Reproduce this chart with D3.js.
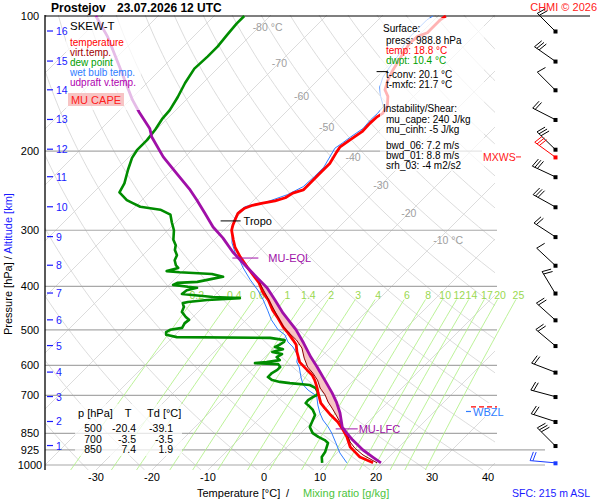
<!DOCTYPE html>
<html><head><meta charset="utf-8">
<script src="https://cdn.jsdelivr.net/npm/d3@7/dist/d3.min.js"></script>
<style>
html,body{margin:0;padding:0;background:#fff;}
svg{display:block;font-family:"Liberation Sans",Arial,Helvetica,sans-serif;}
</style></head><body>
<svg id="chart" width="600" height="500"></svg>
<script>
// ---------------- DATA ----------------
const isobarLevels = [100,200,300,400,500,600,700,850,925,1000];
const tempTicks = [-30,-20,-10,0,10,20,30,40];
const isothermLabelT = [-80,-70,-60,-50,-40,-30,-20,-10];
const isothermLabelP = [106,127,151,177,206,238,275,315];
const mixRatios = [0.2,0.4,0.6,1,1.4,2,3,4,6,8,10,12,14,17,20,25];
const altKm = [1,2,3,4,5,6,7,8,9,10,11,12,13,14,15,16];
const altP  = [905,800,704,621,542,475,414,359,310,266,228,198,170,146,126,108];

const tempP = [988.8,960,935,912,866,836,802,774,747,728,691,670,647,630,614,590,560,540,527,508,493,471,452,429,412,393,362,344,327,315,300,292,285,275,268,264,261,258,254,248,244,236,224,213,201,196,189,181,173,168,165,159,151,146,139,132,127,121,115,111,109,106,102,100];
const tempT = [18.2,14.8,13.0,11.3,8.9,7.0,4.6,2.1,-0.2,-1.8,-4.1,-5.4,-7.0,-8.4,-10.2,-12.9,-15.2,-16.6,-18.0,-20.2,-22.1,-24.6,-27.0,-29.6,-32.0,-34.3,-39.3,-42.3,-45.0,-46.6,-48.6,-49.3,-49.8,-50.5,-50.2,-49.3,-47.9,-46.1,-44.8,-44.3,-43.0,-43.0,-43.0,-43.0,-43.8,-44.1,-43.6,-42.9,-43.0,-42.9,-42.5,-42.9,-44.6,-46.3,-47.5,-48.4,-48.9,-49.6,-50.2,-50.0,-48.9,-48.9,-48.9,-48.6];

const virtP = [988.8,950,917,889,849,823,786,766,747,724,698,674,647,624,605,578,549,527,508,493,471,429,393];
const virtT = [18.9,15.0,12.3,10.4,8.2,6.4,3.9,2.5,1.1,-0.7,-2.5,-4.6,-6.5,-8.6,-10.6,-12.8,-15.0,-17.4,-20.0,-22.0,-24.5,-29.5,-34.2];

const dewP = [988.8,960,935.5,893,880,866,849,823,794,774,754,743,728,717,706,698,688,674,663.5,657,653,647,637,624,614,605,596,593,590,584,575,566,560,552,546,540,532,527,521,519,513,506,500,495,483,475,468,456,445,436,433.5,429,425,422.5,416,408,403,401,397,393,391,385,381,375.5,372,370,364,359,350,341,332,324,315,300,288,277,270,266,261,257,247,236,220,207,199,189,179,169,162,151.5,141,131,123,117,110,104,100];
const dewT = [9.1,8.0,7.7,6.6,5.5,3.8,2.1,0.5,-0.2,-0.7,-2.0,-3.0,-4.5,-4.6,-4.3,-3.9,-4.3,-5.4,-7.0,-10.9,-12.9,-14.6,-15.9,-15.9,-15.5,-15.5,-16.4,-20.7,-18.8,-16.8,-17.9,-17.5,-19.6,-18.2,-20.0,-19.6,-19.3,-19.5,-22.5,-39.3,-41.6,-42.1,-41.8,-40.0,-40.4,-40.2,-41.3,-42.9,-43.4,-44.3,-43.6,-40.5,-35.0,-40.0,-46.1,-45.9,-44.5,-46.3,-49.3,-48.9,-45.5,-43.4,-41.8,-44.3,-50.4,-52.9,-51.4,-52.3,-53.4,-53.9,-55.2,-55.9,-57.3,-58.9,-60.7,-62.3,-65.0,-69.1,-71.1,-72.7,-75.4,-76.1,-77.9,-79.3,-79.8,-79.8,-80.2,-80.9,-81.1,-82.0,-83.2,-84.1,-83.9,-83.9,-84.3,-84.6,-84.6];

const wetP = [988.8,940,893,849,823,794,766,735,702,681,663,640,605,590,569,546,532,513,500,475,452,429,408,387,364,350,337,320,304,295,282,273,266,264,260,250,240,228,217,197,192,186,178,170.5,165,159,151,144,137,130,123,113,106,102,100];
const wetT = [13.5,10.5,8.0,5.5,3.8,1.6,-0.2,-2.0,-3.8,-6.4,-8.2,-9.8,-12.1,-13.4,-14.5,-16.8,-18.6,-20.4,-22.5,-25.5,-27.9,-30.5,-33.2,-36.4,-39.8,-41.8,-43.9,-46.3,-48.0,-49.1,-50.2,-50.7,-50.4,-49.8,-47.5,-45.0,-43.6,-43.4,-43.4,-44.8,-44.4,-44.0,-43.3,-43.5,-43.4,-43.6,-45.9,-47.7,-48.9,-49.5,-50.0,-51.3,-51.3,-51.3,-50.9];

const parcelP = [988.8,960,926,880,849,823,766,724,691,647,605,575,535,500,459,429,403,383,355,335.5,312,295,275,257,244,224,206,186,178,164,154,130,111,100];
const parcelT = [19.6,17.1,14.1,10.5,8.2,6.3,3.4,0.8,-1.6,-5.2,-8.9,-11.8,-15.6,-19.3,-24.6,-28.4,-32.0,-35.5,-40.7,-44.5,-48.8,-52.5,-56.4,-60.2,-63.2,-68.6,-73.9,-79.5,-81.4,-86.1,-89.5,-97.7,-105.4,-111.1];

const lfcP = 831, eqlP = 346, tropoP = 286, frzP = 742, wbzlP = 760, mxwsP = 206;
const tconvMark = [133, -50.5];

const barbP   = [988.8,905,800,704,621,542,475,414,359,310,266,228,198,170,146,126,108];
const barbDir = [275,315,288,285,291,310,312,329,313,303,299,295,314,297,315,305,315];
const barbSpd = [20,30,20,20,20,20,20,20,10,20,30,30,30,20,10,30,20];
const mxwsDir = 306, mxwsSpd = 30;

const tableHead = ["p [hPa]","T","Td [°C]"];
const tableP  = ["500","700","850"];
const tableT  = ["-20.4","-3.5","7.4"];
const tableTd = ["-39.1","-3.5","1.9"];

const legendItems = ["temperature","virt.temp.","dew point","wet bulb temp.","udpraft v.temp."];
const legendColors = ["#ff0000","#a00000","#00a000","#2f7dff","#b000b0"];

const surfaceLines = [
 ["Surface:","#000",0],["press: 988.8 hPa","#000",1],["temp: 18.8 °C","#ff0000",1],["dwpt: 10.4 °C","#00a000",1],
 ["t-conv: 20.1 °C","#000",1],["t-mxfc: 21.7 °C","#000",1],["Instability/Shear:","#000",0],
 ["mu_cape: 240 J/kg","#000",1],["mu_cinh: -5 J/kg","#000",1],["bwd_06: 7.2 m/s","#000",1],
 ["bwd_01: 8.8 m/s","#000",1],["srh_03: -4 m2/s2","#000",1]];
const surfaceY = [28,40,50,60,74,84,108,119,129,145,155,165];

// ---------------- SCALES ----------------
const svg = d3.select('#chart');
const yScale = d3.scaleLog().domain([1000,100]).range([465,16]);
const tScale = d3.scaleLinear().domain([0,10]).range([269,325]);
const SKEW = 1.0;
const py = p => yScale(p);
const px = (T,p) => tScale(T) + (yScale(1000) - yScale(p)) * SKEW;
const pBottom = yScale.invert(470);
const zip = (P,T) => P.map((p,i)=>[p,T[i]]);
const lineGen = d3.line().x(d=>px(d[1],d[0])).y(d=>py(d[0]));

const defs = svg.append('defs');
defs.append('clipPath').attr('id','gclip').append('rect').attr('x',45).attr('y',15).attr('width',450).attr('height',455);
defs.append('clipPath').attr('id','mclip').append('rect').attr('x',45).attr('y',15).attr('width',500).attr('height',455);

// ---------------- GRID ----------------
const grid = svg.append('g').attr('clip-path','url(#gclip)');
grid.selectAll('line.iso').data(d3.range(-150,60,10)).join('line')
  .attr('x1',t=>px(t,pBottom)).attr('y1',py(pBottom)).attr('x2',t=>px(t,90)).attr('y2',py(90))
  .attr('stroke','#d8d8d8').attr('stroke-width',0.9);
const pSteps = d3.range(0,81).map(i=>pBottom*Math.pow(90/pBottom,i/80));
grid.selectAll('path.dry').data(d3.range(230,500,10)).join('path')
  .attr('d',th=>lineGen(pSteps.map(p=>[p, th*Math.pow(p/1000,0.2857)-273.15])))
  .attr('fill','none').attr('stroke','#d8d8d8').attr('stroke-width',0.9);

// isobars
const isoEnd = p => p===100?590:(p===200?482:(p>=925?545:497));
svg.selectAll('line.isobar').data(isobarLevels).join('line')
  .attr('x1',45).attr('x2',p=>isoEnd(p)).attr('y1',p=>py(p)).attr('y2',p=>py(p))
  .attr('stroke',p=>p===100?'#000':'#a8a8a8').attr('stroke-width',1.2);

// mixing ratio lines
const mixTd = (w,p) => { const e=w*p/(622+w); const l=Math.log(e/6.112); return 243.5*l/(17.67-l); };
const mg = svg.append('g').attr('clip-path','url(#mclip)');
const mSteps = d3.range(0,21).map(i=>pBottom*Math.pow(428/pBottom,i/20));
mg.selectAll('path.mix').data(mixRatios).join('path')
  .attr('d',w=>lineGen(mSteps.map(p=>[p,mixTd(w,p)])))
  .attr('fill','none').attr('stroke','#b4f08c').attr('stroke-width',0.9);
svg.selectAll('text.mix').data(mixRatios).join('text')
  .attr('x',w=>px(mixTd(w,418),418)).attr('y',py(418)+4).attr('text-anchor','middle')
  .attr('font-size',10.5).attr('fill','#9ad850').text(w=>w);

// isotherm labels
svg.selectAll('text.isol').data(isothermLabelT).join('text')
  .attr('x',(t,i)=>px(t,isothermLabelP[i]) + (i===0?-6:(i===isothermLabelT.length-1?-5:0)))
  .attr('y',(t,i)=>py(isothermLabelP[i])+4)
  .attr('text-anchor',(t,i)=>(i===0||i===isothermLabelT.length-1)?'start':'middle')
  .attr('font-size',10.5).attr('fill','#a0a0a0')
  .text((t,i)=>(i===0||i===isothermLabelT.length-1)?t+' °C':t);

// ---------------- CAPE FILL ----------------
function interp(P,T,p){
  for(let i=0;i<P.length-1;i++){
    if((P[i]-p)*(P[i+1]-p)<=0){
      const a=Math.log(P[i]), b=Math.log(P[i+1]);
      const f = b===a?0:(Math.log(p)-a)/(b-a);
      return T[i]+f*(T[i+1]-T[i]);
    }
  }
  return NaN;
}
const envP = virtP.concat(tempP.filter(p=>p<393));
const envT = virtT.concat(tempT.filter((t,i)=>tempP[i]<393));
const capeSamples = d3.range(0,81).map(i=>{
  const p = lfcP*Math.pow(eqlP/lfcP,i/80);
  return {p, l:interp(envP,envT,p), r:interp(parcelP,parcelT,p)};
});
svg.append('path').datum(capeSamples)
  .attr('d', d3.area().y(d=>py(d.p)).x0(d=>px(d.l,d.p)).x1(d=>px(Math.max(d.l,d.r),d.p)))
  .attr('fill','#f7c4c4');

// ---------------- PROFILES ----------------
function prof(P,T,color,w){
  svg.append('path').datum(zip(P,T)).attr('d',lineGen)
    .attr('fill','none').attr('stroke',color).attr('stroke-width',w).attr('stroke-linejoin','round');
}
prof(wetP,wetT,'#2f7dff',1);
prof(dewP,dewT,'#008c00',2.6);
prof(tempP,tempT,'#ff0000',2.8);
prof(virtP,virtT,'#8b0000',1);
prof(parcelP,parcelT,'#a010a8',2.8);

// markers
const tx = px(interp(tempP,tempT,tropoP),tropoP);
svg.append('line').attr('x1',tx-14).attr('x2',tx+6).attr('y1',py(tropoP)).attr('y2',py(tropoP)).attr('stroke','#000').attr('stroke-width',1);
svg.append('text').attr('x',tx+9).attr('y',py(tropoP)+4).attr('font-size',11).attr('fill','#000').text('Tropo');
const ex = px(interp(parcelP,parcelT,eqlP),eqlP);
svg.append('line').attr('x1',ex-6).attr('x2',ex+20).attr('y1',py(eqlP)).attr('y2',py(eqlP)).attr('stroke','#a010a8').attr('stroke-width',1);
svg.append('text').attr('x',ex+30).attr('y',py(eqlP)+4).attr('font-size',11).attr('fill','#a010a8').text('MU-EQL');
const lx = px(interp(parcelP,parcelT,lfcP),lfcP);
svg.append('line').attr('x1',lx-8).attr('x2',lx+14).attr('y1',py(lfcP)).attr('y2',py(lfcP)).attr('stroke','#a010a8').attr('stroke-width',1);
svg.append('text').attr('x',lx+15).attr('y',py(lfcP)+4).attr('font-size',11).attr('fill','#a010a8').text('MU-LFC');

// ---------------- BOXES ----------------
// legend
svg.append('rect').attr('x',66).attr('y',17).attr('width',75).attr('height',93).attr('fill','#fff').attr('opacity',0.72);
svg.append('text').attr('x',70).attr('y',30).attr('font-size',11.5).attr('fill','#000').text('SKEW-T');
svg.selectAll('text.leg').data(legendItems).join('text')
  .attr('x',70).attr('y',(d,i)=>45.5+i*10).attr('font-size',10).attr('fill',(d,i)=>legendColors[i]).text(d=>d);
svg.append('rect').attr('x',68).attr('y',93).attr('width',56).attr('height',13).attr('fill','#f7c4c4');
svg.append('text').attr('x',96).attr('y',104).attr('text-anchor','middle').attr('font-size',11).attr('fill','#ff2020').text('MU CAPE');

// surface box
svg.append('rect').attr('x',380).attr('y',18).attr('width',104).attr('height',153).attr('fill','#fff').attr('opacity',0.7);
svg.selectAll('text.sfc').data(surfaceLines).join('text')
  .attr('x',d=>d[2]?386:383).attr('y',(d,i)=>surfaceY[i]+3.5).attr('font-size',10).attr('fill',d=>d[1]).text(d=>d[0]);
svg.append('line').attr('x1',px(tconvMark[1],tconvMark[0])-3).attr('x2',px(tconvMark[1],tconvMark[0])+8)
  .attr('y1',py(tconvMark[0])).attr('y2',py(tconvMark[0])).attr('stroke','#000').attr('stroke-width',1);

// table box
svg.append('rect').attr('x',75).attr('y',404).attr('width',107).attr('height',52).attr('fill','#fff').attr('opacity',0.72);
const headX=[78,128,147];
svg.selectAll('text.th').data(tableHead).join('text')
  .attr('x',(d,i)=>headX[i]).attr('y',417).attr('text-anchor',(d,i)=>i===1?'middle':'start')
  .attr('font-size',11).attr('fill','#000').text(d=>d);
tableP.forEach((p,i)=>{
  const y=432+i*10.5;
  svg.append('text').attr('x',93).attr('y',y).attr('text-anchor','middle').attr('font-size',10.5).text(p);
  svg.append('text').attr('x',136).attr('y',y).attr('text-anchor','end').attr('font-size',10.5).text(tableT[i]);
  svg.append('text').attr('x',173).attr('y',y).attr('text-anchor','end').attr('font-size',10.5).text(tableTd[i]);
});

// WBZL / freezing
svg.append('rect').attr('x',465).attr('y',403).attr('width',42).attr('height',14).attr('fill','#fff');
svg.append('line').attr('x1',471).attr('x2',497).attr('y1',py(frzP)).attr('y2',py(frzP)).attr('stroke','#ff0000').attr('stroke-width',1.2).attr('stroke-dasharray','5,3');
svg.append('line').attr('x1',466).attr('x2',471).attr('y1',py(wbzlP)).attr('y2',py(wbzlP)).attr('stroke','#2f7dff').attr('stroke-width',1.2);
svg.append('text').attr('x',473).attr('y',py(wbzlP)+5).attr('font-size',11).attr('fill','#2f7dff').text('WBZL');

// MXWS
svg.append('text').attr('x',483).attr('y',py(mxwsP)+4).attr('font-size',10.5).attr('fill','#ff2020').text('MXWS');
svg.append('line').attr('x1',516).attr('x2',521).attr('y1',py(mxwsP)).attr('y2',py(mxwsP)).attr('stroke','#ff2020').attr('stroke-width',1);

// ---------------- WIND BARBS ----------------
function barb(p,dir,spd,color){
  const x0=555, y0=py(p);
  const r=dir*Math.PI/180, ux=Math.sin(r), uy=-Math.cos(r);
  const L=25, tx=x0+ux*L, ty=y0+uy*L;
  const g=svg.append('g').attr('stroke',color).attr('stroke-width',1).attr('fill','none');
  g.append('line').attr('x1',x0).attr('y1',y0).attr('x2',tx).attr('y2',ty);
  const qx=-uy, qy=ux;
  const full=Math.floor(spd/10), half=(spd%10)>=5;
  let k=0;
  for(let i=0;i<full;i++){
    const bx=tx-ux*k*2.8, by=ty-uy*k*2.8;
    g.append('line').attr('x1',bx).attr('y1',by).attr('x2',bx+qx*9-ux*2.5).attr('y2',by+qy*9-uy*2.5);
    k++;
  }
  if(half){
    if(full===0) k=1;
    const bx=tx-ux*k*2.8, by=ty-uy*k*2.8;
    g.append('line').attr('x1',bx).attr('y1',by).attr('x2',bx+qx*5-ux*1.3).attr('y2',by+qy*5-uy*1.3);
  }
  svg.append('rect').attr('x',x0-1.5).attr('y',y0-1.5).attr('width',4).attr('height',4).attr('fill',color);
}
barbP.forEach((p,i)=>barb(p,barbDir[i],barbSpd[i], i===0?'#1a3cff':'#000'));
barb(mxwsP,mxwsDir,mxwsSpd,'#ff0000');

// ---------------- AXES ----------------
svg.append('line').attr('x1',45).attr('x2',45).attr('y1',15).attr('y2',470).attr('stroke','#000').attr('stroke-width',1.3);
svg.selectAll('text.plab').data(isobarLevels).join('text')
  .attr('x',30).attr('y',p=>py(p)+4).attr('text-anchor','middle').attr('font-size',11).attr('fill','#000').text(p=>p);
svg.selectAll('line.alt').data(altP).join('line')
  .attr('x1',47).attr('x2',53).attr('y1',p=>py(p)).attr('y2',p=>py(p)).attr('stroke','#1a1aff').attr('stroke-width',1.2);
svg.selectAll('text.alt').data(altKm).join('text')
  .attr('x',56).attr('y',(k,i)=>py(altP[i])+4).attr('font-size',10.5).attr('fill','#1a1aff').text(k=>k);
svg.selectAll('text.tlab').data(tempTicks).join('text')
  .attr('x',t=>px(t,pBottom)).attr('y',481).attr('text-anchor','middle').attr('font-size',11).attr('fill','#000').text(t=>t);

const yl = svg.append('text').attr('transform','translate(12,335) rotate(-90)').attr('font-size',11);
yl.append('tspan').attr('fill','#000').text('Pressure [hPa]  /  ');
yl.append('tspan').attr('fill','#1a1aff').text('Altitude [km]');

svg.append('text').attr('x',197).attr('y',497).attr('font-size',11).attr('fill','#000').text('Temperature [°C]');
svg.append('text').attr('x',286).attr('y',497).attr('font-size',11).attr('fill','#000').text('/');
svg.append('text').attr('x',303).attr('y',497).attr('font-size',11).attr('fill','#4cc43c').text('Mixing ratio [g/kg]');
svg.append('text').attr('x',512).attr('y',497).attr('font-size',10.5).attr('fill','#1a1aff').text('SFC: 215 m ASL');

// title
svg.append('text').attr('x',51).attr('y',12).attr('font-size',12).attr('font-weight','bold').text('Prostejov');
svg.append('text').attr('x',117).attr('y',12).attr('font-size',12).attr('font-weight','bold').text('23.07.2026 12 UTC');
svg.append('text').attr('x',597).attr('y',11).attr('text-anchor','end').attr('font-size',11).attr('fill','#ff2020').text('CHMI © 2026');
</script></body></html>
